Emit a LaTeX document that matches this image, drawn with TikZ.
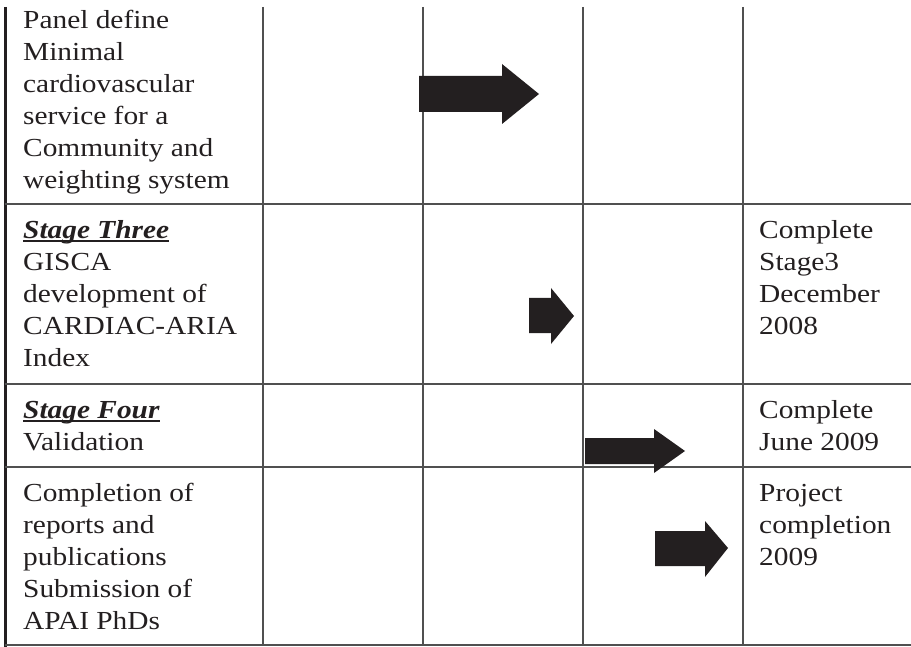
\documentclass[tikz,border=0pt]{standalone}
\usepackage{fontspec}
\setmainfont{Liberation Serif}[FakeStretch=1.13]
\newcommand\myul[1]{\setbox0\hbox{#1}\rlap{\rule[-3.5pt]{\wd0}{1.3pt}}\box0}
\definecolor{ink}{HTML}{231F20}
\definecolor{rule}{HTML}{505050}
\begin{document}
\begin{tikzpicture}[x=1pt,y=-1pt,
  txt/.style={anchor=north west, inner sep=0pt, align=left, text=ink,
    font=\fontsize{26}{32}\selectfont},
  gridline/.style={draw=rule, line width=1.4pt},
  arrowshape/.style={fill=ink}]
\useasboundingbox (0,0) rectangle (911,647);
% grid
\draw[draw=ink, line width=3pt] (5.5,7) -- (5.5,647);
\foreach \x in {263,423,583,743} \draw[gridline] (\x,7) -- (\x,645);
\foreach \y in {204,384,467,645} \draw[gridline] (5,\y) -- (911,\y);
% column 1 texts (baseline - 22.4)
\node[txt] (r1) at (23,5.6) {\strut Panel define\\ Minimal\\ cardiovascular\\ service for a\\ Community and\\ weighting system};
\node[txt] (r2) at (23,215.6) {\strut\myul{\textbf{\textit{Stage Three}}}\\ GISCA\\ development of\\ CARDIAC-ARIA\\ Index};
\node[txt] (r3) at (23,395.6) {\strut\myul{\textbf{\textit{Stage Four}}}\\ Validation};
\node[txt] (r4) at (23,478.6) {\strut Completion of\\ reports and\\ publications\\ Submission of\\ APAI PhDs};
% column 5 texts
\node[txt] (c2) at (759,215.6) {\strut Complete\\ Stage3\\ December\\ 2008};
\node[txt] (c3) at (759,395.6) {\strut Complete\\ June 2009};
\node[txt] (c4) at (759,478.6) {\strut Project\\ completion\\ 2009};
% arrows
\fill[arrowshape] (419,76) -- (502,76) -- (502,64) -- (539,94) -- (502,124) -- (502,112) -- (419,112) -- cycle;
\fill[arrowshape] (529,298) -- (551,298) -- (551,288) -- (574,316) -- (551,344) -- (551,333) -- (529,333) -- cycle;
\fill[arrowshape] (585,438) -- (654,438) -- (654,429) -- (685,451) -- (654,473) -- (654,464) -- (585,464) -- cycle;
\fill[arrowshape] (655,531) -- (705,531) -- (705,521) -- (728,548) -- (705,577) -- (705,566) -- (655,566) -- cycle;
\end{tikzpicture}
\end{document}
